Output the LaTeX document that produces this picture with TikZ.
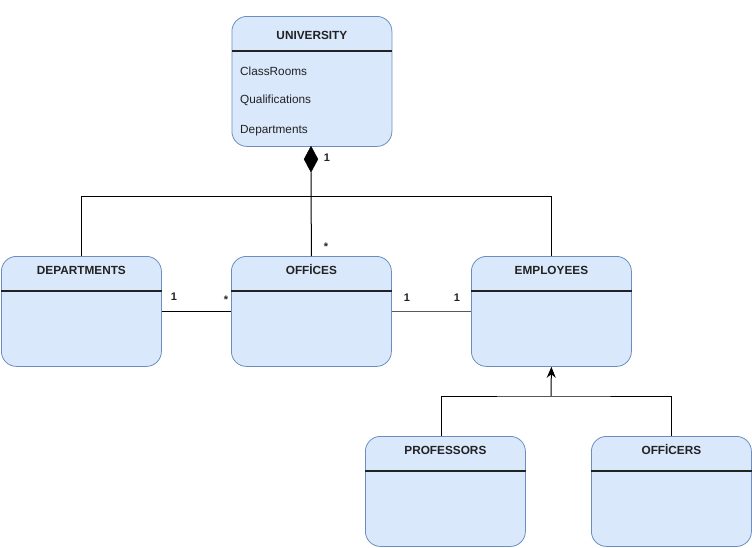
\documentclass[tikz,border=0pt]{standalone}
\usepackage{fontspec}
\setmainfont{Liberation Sans}
\usetikzlibrary{arrows.meta,shapes.geometric}
\definecolor{boxfill}{HTML}{DAE8FC}
\definecolor{boxdraw}{HTML}{6C8EBF}
\definecolor{txt}{HTML}{222222}
\begin{document}
\begin{tikzpicture}[x=1pt,y=-1pt,
 cls/.style={draw=boxdraw, fill=boxfill, rounded corners=15pt, minimum width=160pt, minimum height=110pt, anchor=north west, inner sep=0pt, line width=0.8pt},
 ttl/.style={font=\fontsize{11.8}{14}\selectfont\bfseries, text=txt, anchor=base, inner sep=0pt},
 attr/.style={font=\fontsize{11.8}{14}\selectfont, anchor=west, text=txt, inner sep=0pt},
 sep/.style={line width=1.6pt, txt},
 conn/.style={line width=1pt, black},
 mult/.style={font=\fontsize{11}{13}\selectfont\bfseries, text=txt, inner sep=0pt}]
\useasboundingbox (0,0) rectangle (752,547);
% classes
\node[cls, minimum height=130pt] (uni) at (231.5,16) {};
\node[cls] (dept) at (1,256) {};
\node[cls] (off) at (231,256) {};
\node[cls] (emp) at (471,256) {};
\node[cls] (prof) at (365,436) {};
\node[cls] (offr) at (591,436) {};
% separators and titles
\foreach \n/\t/\d in {uni/UNIVERSITY/23.5, dept/DEPARTMENTS/18.5, off/OFFİCES/18.5, emp/EMPLOYEES/18.5, prof/PROFESSORS/18.5, offr/OFFİCERS/18.5}{
  \draw[sep] ([yshift=-35pt]\n.north west) -- ([yshift=-35pt]\n.north east);
  \node[ttl] (\n-t) at ([yshift=-\d pt]\n.north) {\t};
}
% attributes
\node[attr] (a1) at (240,71) {ClassRooms};
\node[attr] (a2) at (240,100.5) {Qualifications};
\node[attr] (a3) at (240,130.5) {Departments};
% composition
\node[diamond, fill=black, draw=black, inner sep=0pt, minimum width=14pt, minimum height=26pt, anchor=north] (dia) at (311,146) {};
\draw[conn] (dia.south) -- (off.north);
\draw[conn] (dept.north) -- ++(0,-60) -| (emp.north);
% associations
\draw[conn] (dept.east) -- (off.west);
\draw[conn, black!65] (off.east) -- (emp.west);
% inheritance
\coordinate (j) at (551,396);
\draw[conn] ([xshift=-4pt]prof.north) |- (j) -| (offr.north);
\draw[conn, -{Stealth[length=11pt,width=9pt]}] (j) -- (emp.south);
% multiplicities
\node[mult] (m1) at (327,158) {1};
\node[mult] (m2) at (326,247) {*};
\node[mult] (m3) at (174,297) {1};
\node[mult] (m4) at (226,300) {*};
\node[mult] (m5) at (407,298) {1};
\node[mult] (m6) at (457,298) {1};
\end{tikzpicture}
\end{document}
